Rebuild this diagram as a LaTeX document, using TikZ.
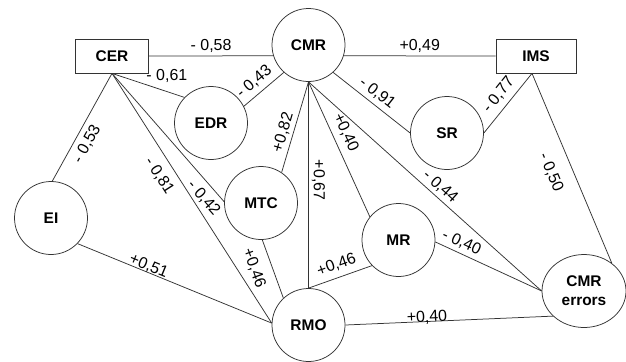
\documentclass[tikz,border=0pt]{standalone}
\usepackage{fontspec}
\setmainfont{Liberation Sans}
\usetikzlibrary{shapes.geometric}
\begin{document}
\begin{tikzpicture}[x=1bp,y=-1bp,
  var/.style={circle, draw=black!80, line width=0.75bp, minimum size=73bp, inner sep=0pt,
    font=\fontsize{15.5}{19}\selectfont\bfseries},
  obs/.style={rectangle, draw=black!80, line width=0.75bp, minimum height=34bp, inner sep=0pt,
    font=\fontsize{15.5}{19}\selectfont\bfseries},
  link/.style={draw=black!80, line width=0.75bp},
  coef/.style={font=\fontsize{16}{19}\selectfont, inner sep=3bp},
  scoef/.style={coef, sloped}]
\useasboundingbox (0,0) rectangle (626,361);
% nodes
\node[obs, minimum width=73bp] (cer) at (112,56) {CER};
\node[var] (cmr) at (308.5,45) {CMR};
\node[obs, minimum width=80bp] (ims) at (536,56) {IMS};
\node[var] (edr) at (211,123) {EDR};
\node[var] (sr) at (447,133) {SR};
\node[var] (ei) at (51,218) {EI};
\node[var] (mtc) at (261,203) {MTC};
\node[var] (mr) at (398.5,240) {MR};
\node[var] (rmo) at (308.5,325) {RMO};
\node[ellipse, draw=black!80, line width=0.75bp, minimum width=84bp, minimum height=73bp,
  inner sep=0pt, align=center, font=\fontsize{15.5}{19}\selectfont\bfseries] (err) at (584,291) {CMR\\errors};
\coordinate (imsb) at ([xshift=-4bp]ims.south);
% connectors
\draw[link] (cer.east) -- node[coef, above] {- 0,58} (cmr.197.5);
\draw[link] (cmr.-17.5) -- node[coef, above] {+0,49} (ims.west);
\draw[link] (cer.south) -- node[coef, pos=0.757, yshift=15.5bp] {- 0,61} (edr.136);
\draw[link] (edr.27) -- node[scoef, pos=0.45, above=2bp] {- 0,43} (cmr.228);
\draw[link] (ei.88) -- node[scoef, pos=0.40, below=2.5bp] {- 0,53} (cer.south);
\draw[link] (cer.south) -- node[scoef, pos=0.377, below=5.5bp] {- 0,81} (rmo.177);
\draw[link] (cer.south) -- node[scoef, pos=0.905, below=3bp] {- 0,42} (mtc.178);
\draw[link] (mtc.56) -- node[scoef, pos=0.41, above=0bp] {+0,82} (cmr.south);
\draw[link] (cmr.south) -- node[coef, pos=0.476, rotate=-90, anchor=south] {+0,67} (rmo.north);
\draw[link] (cmr.south) -- node[scoef, pos=0.416, above=3bp] {+0,40} (mr.141);
\draw[link] (cmr.south) -- node[scoef, pos=0.537, above=0bp] {- 0,44} (err.west);
\draw[link] (cmr.-48) -- node[scoef, pos=0.485, above=1bp] {- 0,91} (sr.west);
\draw[link] (sr.east) -- node[scoef, pos=0.506, above=2.5bp] {- 0,77} (imsb);
\draw[link] (imsb) -- node[scoef, pos=0.478, below=11bp] {- 0,50} (err.45);
\draw[link] (mr.-3) -- node[scoef, pos=0.206, above=0.5bp] {- 0,40} (err.west);
\draw[link] (rmo.north) -- node[scoef, pos=0.507, above=2.5bp] {+0,46} (mr.224);
\draw[link] (mtc.-88) -- node[scoef, pos=0.385, below=7.5bp] {+0,46} (rmo.133);
\draw[link] (ei.-44) -- node[scoef, pos=0.355, above=-4bp] {+0,51} (rmo.177);
\draw[link] (rmo.east) -- node[scoef, pos=0.394, above=-6bp] {+0,40} (err.219);
\end{tikzpicture}
\end{document}
